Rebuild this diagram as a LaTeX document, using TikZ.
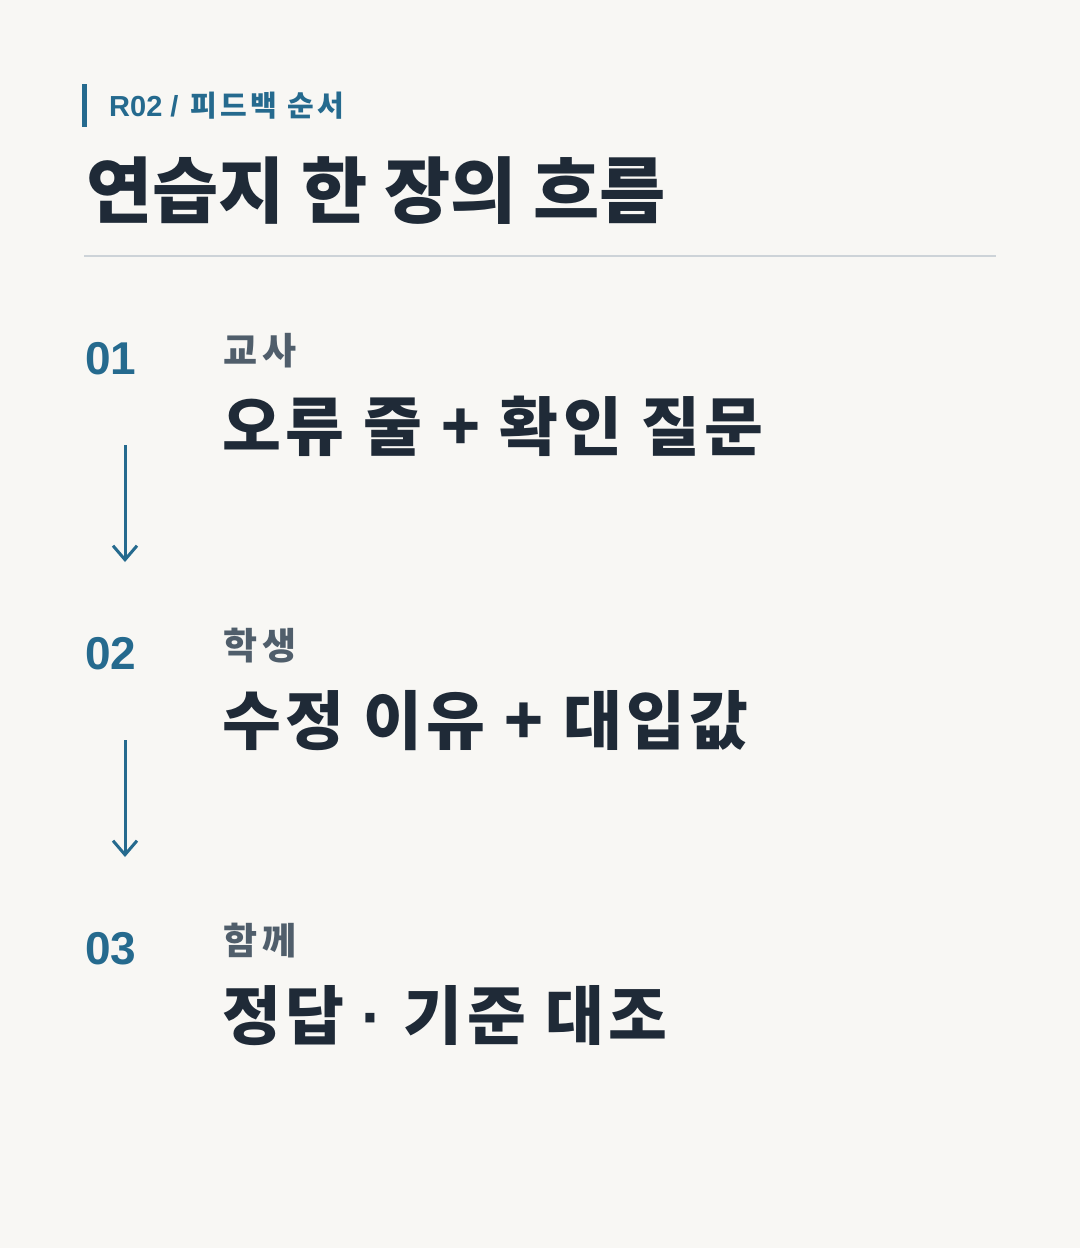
\documentclass[tikz,border=0pt]{standalone}
\usepackage{fontspec}
\setmainfont{Liberation Sans}
\newfontfamily\kr{Noto Sans CJK KR}
\newfontfamily\lat{Liberation Sans}
\usetikzlibrary{arrows.meta}
\definecolor{bgc}{HTML}{F8F7F4}
\definecolor{accent}{HTML}{256A8E}
\definecolor{ink}{HTML}{1F2A37}
\definecolor{muted}{HTML}{505E6B}
\definecolor{rule}{HTML}{CDD3D8}
\tikzset{
  kicker/.style={anchor=west,inner sep=0pt,text=accent,font=\fontsize{29}{29}\selectfont\bfseries},
  title/.style={anchor=west,inner sep=0pt,text=ink,font=\kr\fontsize{72}{72}\selectfont\bfseries},
  num/.style={anchor=west,inner sep=0pt,text=accent,font=\fontsize{46}{46}\selectfont\bfseries},
  who/.style={anchor=west,inner sep=0pt,text=muted,font=\kr\fontsize{37}{37}\selectfont\bfseries\addfontfeatures{LetterSpace=14}},
  what/.style={anchor=west,inner sep=0pt,text=ink,font=\kr\fontsize{64}{64}\selectfont\bfseries\addfontfeatures{LetterSpace=7}},
  flow/.style={draw=accent,line width=3pt,-{Straight Barb[length=14pt,width=24pt,line width=3pt]}}
}
\begin{document}
\begin{tikzpicture}[x=1pt,y=-1pt]
\fill[bgc] (0,0) rectangle (1080,1248);
\useasboundingbox (0,0) rectangle (1080,1248);
% header
\fill[accent] (82,84) rectangle (86.5,127);
\node[kicker] (kick) at (109,106) {R02 /\hspace{4pt} {\kr\addfontfeatures{LetterSpace=12}피드백 순서}};
\node[title] (ttl) at (86,191) {연습지 한 장의 흐름};
\coordinate (rl) at (84,256);
\coordinate (rr) at (996,256);
\draw[rule,line width=2pt] (rl) -- (rr);
% step 1
\node[num] (n1) at (85,359) {01};
\node[who] (w1) at (223,351) {교사};
\node[what] (t1) at (222,426) {오류 줄 + 확인 질문};
% step 2
\node[num] (n2) at (85,654) {02};
\node[who] (w2) at (223,646) {학생};
\node[what] (t2) at (222,721) {수정 이유 + 대입값};
% step 3
\node[num] (n3) at (85,949) {03};
\node[who] (w3) at (223,941) {함께};
\node[what] (t3) at (222,1016) {정답\hspace{17pt}{\lat ·}\hspace{21pt}기준 대조};
% arrows
\coordinate (a1s) at (125,445);
\coordinate (a1e) at (125,562);
\coordinate (a2s) at (125,740);
\coordinate (a2e) at (125,857);
\draw[flow] (a1s) -- (a1e);
\draw[flow] (a2s) -- (a2e);
\end{tikzpicture}
\end{document}
